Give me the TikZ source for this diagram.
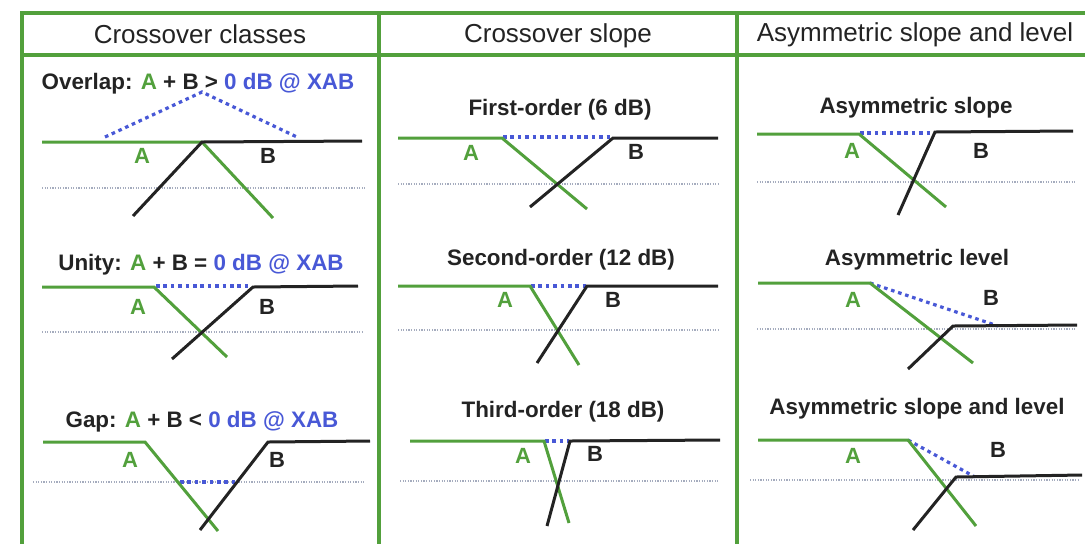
\documentclass[tikz,border=0pt]{standalone}
\usepackage{fontspec}
\setmainfont{Liberation Sans}
\usetikzlibrary{calc}
\definecolor{LGreen}{RGB}{ 82, 160, 60 }
\definecolor{SumBlue}{RGB}{ 72, 88, 214 }
\definecolor{RefGray}{RGB}{ 165, 172, 190 }
\definecolor{Ink}{RGB}{ 35, 35, 35 }
\tikzset{
    grid line/.style={LGreen, line width=1.6pt},
    bandA/.style={LGreen, line width=1.5pt},
    bandB/.style={Ink, line width=1.5pt},
    refline/.style={RefGray, line width=0.7pt, dash pattern=on 0.6pt off 0.7pt},
    sumline/.style={SumBlue, line width=1.6pt, dash pattern=on 1.8pt off 1.9pt},
    heading/.style={font=\fontsize{13}{15}\selectfont, text=Ink, anchor=base, inner sep=0pt},
    caption/.style={font=\fontsize{11.2}{13}\selectfont\bfseries, text=Ink, anchor=base, inner sep=0pt},
    bandlabel/.style={font=\fontsize{11}{13}\selectfont\bfseries, anchor=base, inner sep=0pt},
}
% one crossover sketch, from the coordinates of scope prefix #2
% #1 = extra points of the summed (dotted blue) line
\NewDocumentCommand{\Crossover}{O{} m}{
    \draw[refline] (#2-ref-west) -- (#2-ref-east);
    \draw[sumline] (#2-sum-west) #1 -- (#2-sum-east);
    \draw[bandA] (#2-A-west) -- (#2-A-knee) -- (#2-A-end);
    \draw[bandB] (#2-B-end) -- (#2-B-knee) -- (#2-B-east);
    \node[bandlabel, text=LGreen] (#2-A) at (#2-A-text) {A};
    \node[bandlabel, text=Ink] (#2-B) at (#2-B-text) {B};
}
\newcommand{\Grid}{
\useasboundingbox (0,0) rectangle (1085,543);
\draw[grid line] (22,550) -- (22,13) -- (1100,13);
\draw[grid line] (22,55) -- (1100,55);
\draw[grid line] (379,13) -- (379,550);
\draw[grid line] (737,13) -- (737,550);
\node[heading] (classes-head) at (200,43) {Crossover classes};
\node[heading] (slope-head) at (558,42) {Crossover slope};
\node[heading] (asym-head) at (915,41) {Asymmetric slope and level};
}

\begin{document}
\begin{tikzpicture}[x=0.5pt, y=-0.5pt]
\Grid

% crossover classes
\begin{scope}[name prefix=P1-]   % overlap
    \coordinate (A-west) at (42,142);
    \coordinate (A-knee) at (202,142);
    \coordinate (A-end) at (273,218);
    \coordinate (B-end) at (133,216);
    \coordinate (B-knee) at (202,142);
    \coordinate (B-east) at (362,141);
    \coordinate (ref-west) at (42,188);
    \coordinate (ref-east) at (365,188);
    \coordinate (sum-west) at (105,137);
    \coordinate (sum-top) at (202,92);
    \coordinate (sum-east) at (297,137);
    \coordinate (A-text) at (142,163);
    \coordinate (B-text) at (268,163);
\end{scope}
\begin{scope}[name prefix=P2-]   % unity
    \coordinate (A-west) at (42,287);
    \coordinate (A-knee) at (154,287);
    \coordinate (A-end) at (227,357);
    \coordinate (B-end) at (172,359);
    \coordinate (B-knee) at (253,287);
    \coordinate (B-east) at (358,286);
    \coordinate (ref-west) at (42,332);
    \coordinate (ref-east) at (362,332);
    \coordinate (sum-west) at (156,286);
    \coordinate (sum-east) at (252,286);
    \coordinate (A-text) at (138,314);
    \coordinate (B-text) at (267,314);
\end{scope}
\begin{scope}[name prefix=P3-]   % gap
    \coordinate (A-west) at (43,442);
    \coordinate (A-knee) at (145,442);
    \coordinate (A-end) at (218,531);
    \coordinate (B-end) at (200,530);
    \coordinate (B-knee) at (268,442);
    \coordinate (B-east) at (370,441);
    \coordinate (ref-west) at (33,482);
    \coordinate (ref-east) at (365,482);
    \coordinate (sum-west) at (180,482);
    \coordinate (sum-east) at (235,482);
    \coordinate (A-text) at (130,467);
    \coordinate (B-text) at (277,467);
\end{scope}

% crossover slope
\begin{scope}[name prefix=P4-]   % first order
    \coordinate (A-west) at (398,138);
    \coordinate (A-knee) at (502,138);
    \coordinate (A-end) at (587,209);
    \coordinate (B-end) at (530,207);
    \coordinate (B-knee) at (613,138);
    \coordinate (B-east) at (718,138);
    \coordinate (ref-west) at (398,184);
    \coordinate (ref-east) at (718,184);
    \coordinate (sum-west) at (503,137);
    \coordinate (sum-east) at (612,137);
    \coordinate (A-text) at (471,160);
    \coordinate (B-text) at (636,159);
\end{scope}
\begin{scope}[name prefix=P5-]   % second order
    \coordinate (A-west) at (398,286);
    \coordinate (A-knee) at (530,286);
    \coordinate (A-end) at (579,365);
    \coordinate (B-end) at (537,363);
    \coordinate (B-knee) at (587,286);
    \coordinate (B-east) at (718,286);
    \coordinate (ref-west) at (398,330);
    \coordinate (ref-east) at (718,330);
    \coordinate (sum-west) at (531,286);
    \coordinate (sum-east) at (586,286);
    \coordinate (A-text) at (505,307);
    \coordinate (B-text) at (613,307);
\end{scope}
\begin{scope}[name prefix=P6-]   % third order
    \coordinate (A-west) at (410,441);
    \coordinate (A-knee) at (544,441);
    \coordinate (A-end) at (569,523);
    \coordinate (B-end) at (547,526);
    \coordinate (B-knee) at (570,441);
    \coordinate (B-east) at (720,440);
    \coordinate (ref-west) at (400,481);
    \coordinate (ref-east) at (718,481);
    \coordinate (sum-west) at (545,441);
    \coordinate (sum-east) at (569,441);
    \coordinate (A-text) at (523,463);
    \coordinate (B-text) at (595,461);
\end{scope}

% asymmetric slope and level
\begin{scope}[name prefix=P7-]   % slope
    \coordinate (A-west) at (757,134);
    \coordinate (A-knee) at (859,134);
    \coordinate (A-end) at (946,207);
    \coordinate (B-end) at (898,215);
    \coordinate (B-knee) at (935,132);
    \coordinate (B-east) at (1073,131);
    \coordinate (ref-west) at (757,182);
    \coordinate (ref-east) at (1075,182);
    \coordinate (sum-west) at (860,133);
    \coordinate (sum-east) at (934,133);
    \coordinate (A-text) at (852,158);
    \coordinate (B-text) at (981,158);
\end{scope}
\begin{scope}[name prefix=P8-]   % level
    \coordinate (A-west) at (758,283);
    \coordinate (A-knee) at (870,283);
    \coordinate (A-end) at (973,363);
    \coordinate (B-end) at (908,369);
    \coordinate (B-knee) at (953,326);
    \coordinate (B-east) at (1077,325);
    \coordinate (ref-west) at (757,329);
    \coordinate (ref-east) at (1075,329);
    \coordinate (sum-west) at (870,283);
    \coordinate (sum-east) at (998,326);
    \coordinate (A-text) at (853,307);
    \coordinate (B-text) at (991,305);
\end{scope}
\begin{scope}[name prefix=P9-]   % slope and level
    \coordinate (A-west) at (758,440);
    \coordinate (A-knee) at (908,440);
    \coordinate (A-end) at (976,526);
    \coordinate (B-end) at (913,530);
    \coordinate (B-knee) at (956,477);
    \coordinate (B-east) at (1082,475);
    \coordinate (ref-west) at (750,480);
    \coordinate (ref-east) at (1080,480);
    \coordinate (sum-west) at (908,440);
    \coordinate (sum-east) at (975,477);
    \coordinate (A-text) at (853,463);
    \coordinate (B-text) at (998,457);
\end{scope}

\Crossover[-- (P1-sum-top)]{P1}
\Crossover{P2}
\Crossover{P3}
\Crossover{P4}
\Crossover{P5}
\Crossover{P6}
\Crossover{P7}
\Crossover{P8}
\Crossover{P9}

\node[caption] (P1-title) at (198,89) {Overlap: \textcolor{LGreen}{A} + B > \textcolor{SumBlue}{0 dB @ XAB}};
\node[caption] (P2-title) at (201,270) {Unity: \textcolor{LGreen}{A} + B = \textcolor{SumBlue}{0 dB @ XAB}};
\node[caption] (P3-title) at (202,427) {Gap: \textcolor{LGreen}{A} + B < \textcolor{SumBlue}{0 dB @ XAB}};
\node[caption] (P4-title) at (560,115) {First-order (6 dB)};
\node[caption] (P5-title) at (561,265) {Second-order (12 dB)};
\node[caption] (P6-title) at (563,417) {Third-order (18 dB)};
\node[caption] (P7-title) at (916,113) {Asymmetric slope};
\node[caption] (P8-title) at (917,265) {Asymmetric level};
\node[caption] (P9-title) at (917,414) {Asymmetric slope and level};

\end{tikzpicture}
\end{document}
